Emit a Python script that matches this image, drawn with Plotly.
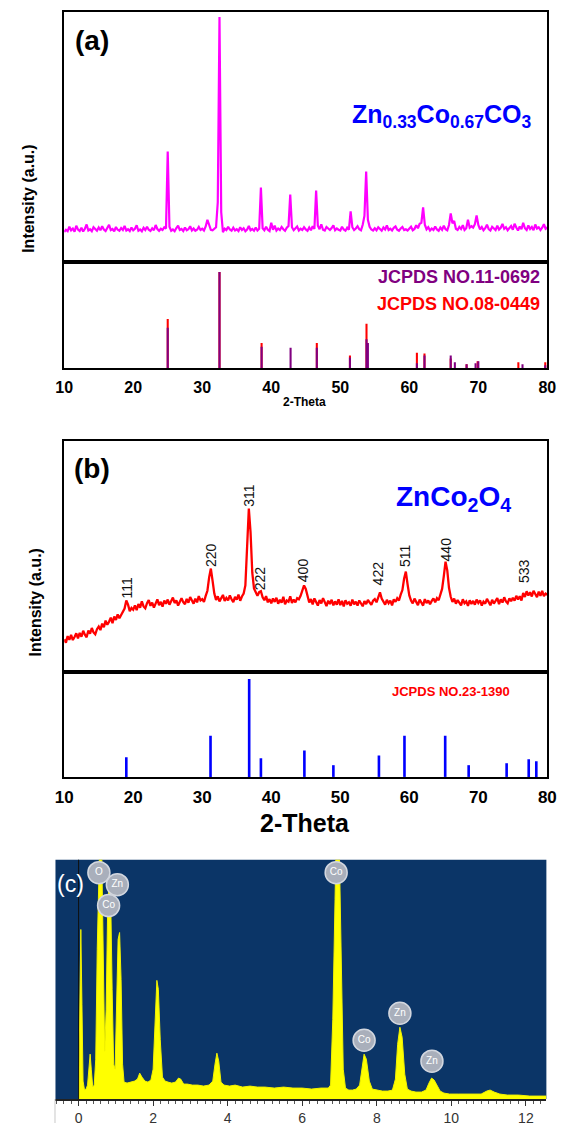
import numpy as np
import plotly.graph_objects as go

W, H = 567, 1126

# ---------------- (a) Zn0.33Co0.67CO3 : XRD scan, 10-80 deg at 0.25 deg step ----------------
scan_a_start, scan_a_step = 10.0, 0.25
scan_a_counts = [
    12.1, 13.0, 12.4, 14.2, 12.8, 13.5, 12.2, 14.6, 13.1, 12.5, 13.8, 12.3, 13.4, 15.1, 12.7, 13.2, 12.4, 14.0, 13.3, 12.6,
    13.9, 12.8, 14.4, 13.1, 12.5, 13.6, 15.0, 12.9, 13.3, 12.4, 14.1, 13.0, 12.6, 13.7, 12.9, 14.5, 12.7, 13.2, 12.5, 13.9,
    12.8, 13.4, 14.8, 12.6, 13.1, 12.4, 13.8, 12.9, 14.2, 13.0, 12.5, 13.6, 12.8, 14.9, 13.3, 12.6, 13.4, 12.9, 14.0, 13.5,
    44.2, 14.2, 12.6, 13.1, 12.4, 13.7, 14.6, 12.9, 13.3, 12.5, 13.9, 12.8, 13.2, 14.4, 12.7, 13.5, 12.6, 13.0, 14.1, 12.9,
    13.4, 12.7, 14.3, 17.0, 14.5, 13.0, 12.8, 13.5, 14.0, 24.0, 98.0, 20.0, 12.0, 13.4, 12.9, 14.2, 13.1, 12.6, 13.8, 12.7,
    13.2, 12.5, 14.0, 12.9, 13.6, 12.4, 13.1, 14.5, 12.8, 13.3, 12.6, 13.9, 12.7, 13.4, 29.9, 13.6, 12.8, 14.2, 13.0, 12.5,
    15.8, 13.0, 14.6, 12.7, 13.5, 12.9, 14.1, 13.2, 12.6, 13.8, 14.5, 27.1, 14.0, 12.8, 13.6, 14.3, 12.7, 13.4, 12.9, 14.0,
    13.1, 12.6, 13.9, 12.8, 14.4, 13.3, 28.7, 14.6, 13.2, 15.2, 13.0, 12.7, 14.1, 13.4, 12.9, 13.7, 14.8, 12.8, 13.5, 13.0,
    12.7, 14.2, 13.1, 12.6, 13.8, 13.0, 20.3, 14.0, 12.9, 13.5, 14.4, 13.2, 12.8, 15.0, 18.5, 36.3, 17.0, 14.2, 13.1, 12.7,
    13.6, 12.8, 14.0, 13.3, 12.6, 13.9, 13.1, 14.7, 12.9, 13.4, 12.7, 13.8, 14.3, 13.0, 12.6, 13.5, 14.1, 12.9, 13.2, 12.7,
    13.7, 14.2, 12.8, 13.3, 14.8, 13.6, 15.4, 15.8, 21.9, 15.0, 13.2, 14.0, 12.7, 13.5, 12.9, 14.3, 13.1, 12.6, 13.9, 13.0,
    14.6, 13.2, 12.8, 14.9, 19.5, 15.6, 16.5, 13.4, 12.9, 14.1, 13.3, 14.8, 12.9, 13.6, 17.0, 13.8, 14.4, 13.9, 15.2, 18.7,
    14.9, 13.2, 14.1, 12.8, 13.6, 15.0, 13.3, 12.7, 14.2, 13.5, 12.9, 14.6, 13.1, 13.8, 15.3, 13.4, 14.0, 12.8, 13.6, 14.5,
    13.0, 15.4, 13.9, 12.7, 14.3, 13.2, 15.8, 13.6, 12.9, 14.7, 13.3, 14.1, 12.8, 15.1, 13.5, 14.0, 12.9, 13.8, 15.2, 13.4,
    13.9,
]

# Standard stick patterns (relative intensity, %)
jcpds_11_0692_2theta = [25.0, 32.5, 38.6, 42.8, 46.6, 51.4, 53.8, 54.0, 61.1, 62.2, 66.0, 66.6, 68.3, 69.6, 70.0, 76.4, 79.7]
jcpds_11_0692_int = [42, 100, 22, 21, 21, 11, 30, 26, 5, 13, 13, 6, 4, 5, 7, 4, 3]
jcpds_08_0449_2theta = [25.0, 32.5, 38.6, 46.6, 51.4, 53.8, 61.1, 62.2, 66.0, 68.3, 69.9, 75.8, 79.7]
jcpds_08_0449_int = [51, 100, 26, 26, 13, 46, 16, 15, 10, 4, 7, 6, 6]

# ---------------- (b) ZnCo2O4 : XRD scan, 10-80 deg at 0.25 deg step ----------------
scan_b_start, scan_b_step = 10.0, 0.25
scan_b_counts = [
    14.2, 12.8, 15.6, 14.0, 16.1, 13.9, 15.2, 16.8, 14.6, 17.0, 15.3, 17.9, 16.2, 15.1, 18.0, 16.6, 19.1, 17.2, 16.4, 18.6,
    19.7, 18.2, 21.0, 19.4, 22.3, 20.5, 21.8, 23.6, 21.2, 24.1, 22.6, 25.0, 23.3, 24.8, 26.2, 27.5, 31.0, 29.2, 26.4, 27.8,
    27.0, 28.9, 26.8, 29.5, 27.9, 30.6, 28.4, 27.6, 29.8, 31.2, 28.7, 30.1, 27.9, 29.4, 31.5, 29.0, 30.4, 28.3, 31.0, 29.6,
    31.4, 29.2, 30.8, 32.3, 29.9, 31.1, 28.8, 30.5, 32.0, 30.3, 29.4, 31.7, 30.0, 32.5, 30.9, 29.6, 31.8, 30.2, 32.9, 31.0,
    31.6, 30.4, 33.0, 35.2, 41.0, 44.8, 39.5, 34.0, 31.2, 32.8, 30.6, 31.9, 33.4, 30.8, 32.1, 31.0, 33.2, 31.5, 30.3, 32.6,
    31.4, 33.5, 30.9, 32.7, 34.0, 37.5, 52.0, 70.7, 60.5, 43.0, 36.2, 34.8, 33.0, 34.6, 35.0, 32.4, 31.1, 32.9, 30.2, 31.6,
    29.8, 31.9, 30.4, 32.2, 29.6, 31.3, 30.0, 32.6, 29.4, 31.0, 30.5, 32.8, 29.9, 31.4, 30.2, 32.0, 31.5, 33.0, 35.0, 37.5,
    36.0, 32.8, 30.1, 31.6, 29.3, 31.9, 30.4, 28.8, 31.2, 29.7, 32.0, 30.0, 28.6, 30.9, 29.5, 31.3, 28.9, 30.6, 29.2, 31.5,
    29.0, 30.8, 28.4, 31.1, 29.6, 30.2, 28.7, 31.4, 29.3, 30.5, 28.8, 31.0, 29.9, 28.5, 30.7, 29.4, 31.2, 30.0, 29.1, 30.9,
    31.6, 30.2, 32.0, 34.5, 31.8, 30.5, 29.2, 31.3, 29.8, 30.9, 28.9, 31.5, 30.4, 32.0, 31.0, 33.5, 35.5, 40.5, 43.5, 38.0,
    33.2, 31.0, 29.7, 31.8, 30.3, 29.0, 31.4, 30.1, 28.8, 31.6, 29.9, 31.0, 29.4, 30.8, 31.9, 30.2, 32.0, 31.1, 33.4, 36.0,
    41.5, 47.8, 44.0, 36.5, 32.6, 30.4, 31.8, 29.6, 31.2, 30.0, 28.9, 31.5, 29.8, 30.6, 28.7, 31.1, 29.5, 30.8, 29.2, 31.4,
    29.9, 31.0, 28.8, 30.5, 29.6, 31.7, 30.2, 28.9, 31.3, 29.7, 30.8, 32.0, 29.4, 31.5, 30.1, 32.4, 30.6, 29.8, 31.9, 30.7,
    32.2, 30.9, 33.0, 31.4, 32.8, 31.0, 34.2, 32.5, 35.0, 33.1, 34.6, 32.7, 35.2, 33.6, 32.4, 34.8, 33.0, 35.1, 32.9, 34.0,
    33.5,
]
jcpds_23_1390_2theta = [19.0, 31.2, 36.8, 38.5, 44.8, 49.0, 55.6, 59.3, 65.2, 68.6, 74.1, 77.3, 78.4]
jcpds_23_1390_int = [20, 42, 100, 19, 27, 12, 22, 42, 42, 12, 14, 18, 16]

hkl_labels = ["111", "220", "311", "222", "400", "422", "511", "440", "533"]
hkl_2theta = [19.1, 31.2, 36.8, 38.5, 44.7, 55.6, 59.3, 65.3, 76.7]

# ---------------- (c) EDS spectrum ----------------
eds_kev = [0.00, 0.03, 0.06, 0.09, 0.12, 0.16, 0.20, 0.24, 0.28, 0.31, 0.34, 0.38, 0.42, 0.46, 0.50, 0.54,
           0.58, 0.62, 0.66, 0.70, 0.74, 0.78, 0.82, 0.86, 0.90, 0.94, 0.98, 1.02, 1.06, 1.10, 1.14, 1.18,
           1.22, 1.30, 1.40, 1.50, 1.58, 1.64, 1.70, 1.78, 1.86, 1.94, 2.00, 2.05, 2.10, 2.14, 2.19, 2.25,
           2.32, 2.40, 2.50, 2.60, 2.68, 2.74, 2.82, 2.92, 3.05, 3.20, 3.35, 3.50, 3.60, 3.66, 3.71, 3.76,
           3.82, 3.90, 4.05, 4.20, 4.40, 4.60, 4.80, 5.00, 5.25, 5.50, 5.75, 6.00, 6.25, 6.50, 6.70, 6.76,
           6.82, 6.88, 6.93, 6.98, 7.04, 7.10, 7.16, 7.25, 7.35, 7.45, 7.54, 7.60, 7.66, 7.72, 7.80, 7.88,
           8.00, 8.15, 8.30, 8.42, 8.50, 8.56, 8.62, 8.68, 8.75, 8.82, 8.92, 9.05, 9.20, 9.32, 9.40, 9.47,
           9.54, 9.62, 9.70, 9.80, 9.95, 10.2, 10.5, 10.8, 10.95, 11.04, 11.15, 11.3, 11.5, 11.8, 12.1, 12.4, 12.55]
eds_counts = [0, 90, 170, 95, 18, 9, 10, 14, 38, 45, 30, 12, 14, 40, 150, 260,
              280, 250, 120, 48, 90, 190, 217, 205, 110, 35, 30, 95, 160, 167, 120, 35,
              17, 16, 17, 18, 20, 26, 22, 18, 17, 19, 30, 80, 119, 110, 60, 22,
              18, 17, 16, 17, 21, 20, 15, 15, 14, 14, 13, 14, 18, 35, 46, 38,
              17, 14, 13, 14, 12, 13, 12, 12, 11, 12, 11, 11, 10, 11, 11, 14,
              80, 200, 300, 280, 150, 30, 11, 9, 9, 10, 14, 32, 45, 40, 18, 10,
              9, 8, 8, 9, 20, 55, 72, 62, 25, 10, 8, 7, 7, 9, 16, 21,
              19, 13, 8, 6, 5, 5, 5, 5, 8, 9, 7, 5, 4, 4, 3, 3, 3]

eds_peak_names = ["O", "Zn", "Co", "Co", "Co", "Zn", "Zn"]
eds_peak_kev = [0.545, 1.04, 0.805, 6.91, 7.66, 8.62, 9.48]
eds_badge_counts = [227, 215, 194, 227, 59, 86, 38]


# ---------------- helpers ----------------
def fx(px):
    return px / W


def fy(py):
    return 1 - py / H


FONT = "Arial, Liberation Sans, sans-serif"

scan_a_x = scan_a_start + scan_a_step * np.arange(len(scan_a_counts))
scan_b_x = scan_b_start + scan_b_step * np.arange(len(scan_b_counts))

fig = go.Figure()

# (a) measured pattern
fig.add_trace(go.Scatter(x=scan_a_x, y=scan_a_counts, mode="lines",
                         line=dict(color="#ff00ff", width=2.2), xaxis="x", yaxis="y",
                         showlegend=False, hoverinfo="skip"))
# (a) standard sticks: red behind, purple in front
fig.add_trace(go.Bar(x=jcpds_08_0449_2theta, y=jcpds_08_0449_int, width=0.3,
                     marker=dict(color="#ff0000", line=dict(width=0)), xaxis="x2", yaxis="y2",
                     showlegend=False))
fig.add_trace(go.Bar(x=jcpds_11_0692_2theta, y=jcpds_11_0692_int, width=0.3,
                     marker=dict(color="#800080", line=dict(width=0)), xaxis="x2", yaxis="y2",
                     showlegend=False))

# (b) measured pattern
fig.add_trace(go.Scatter(x=scan_b_x, y=scan_b_counts, mode="lines",
                         line=dict(color="#ff0000", width=2.3), xaxis="x3", yaxis="y3",
                         showlegend=False, hoverinfo="skip"))
fig.add_trace(go.Bar(x=jcpds_23_1390_2theta, y=jcpds_23_1390_int, width=0.38,
                     marker=dict(color="#0000ff", line=dict(width=0)), xaxis="x4", yaxis="y4",
                     showlegend=False))

# (c) EDS spectrum
fig.add_trace(go.Scatter(x=eds_kev, y=eds_counts, mode="lines", fill="tozeroy",
                         fillcolor="#ffff00", line=dict(color="#f2f200", width=1),
                         xaxis="x5", yaxis="y5", showlegend=False, hoverinfo="skip"))
fig.add_trace(go.Scatter(x=eds_peak_kev, y=eds_badge_counts, mode="markers+text",
                         text=eds_peak_names, textposition="middle center",
                         textfont=dict(family=FONT, size=10, color="white"),
                         marker=dict(symbol="circle", size=22, color="#a9afbb",
                                     line=dict(color="#d3d7df", width=1.5)),
                         xaxis="x5", yaxis="y5", showlegend=False, hoverinfo="skip",
                         cliponaxis=False))


def frame(domain, rng, **kw):
    d = dict(domain=domain, range=rng, showgrid=False, zeroline=False, showline=True,
             linecolor="black", linewidth=2, mirror=True, ticks="", showticklabels=False,
             fixedrange=True)
    d.update(kw)
    return d


xdom_ab = [fx(57), fx(556)]
tickfont_ab = dict(family=FONT, size=16, color="black", weight="bold")

layout = dict(
    width=W, height=H, margin=dict(l=0, r=0, t=0, b=0),
    paper_bgcolor="white", plot_bgcolor="rgba(0,0,0,0)",
    barmode="overlay", showlegend=False,
    xaxis=frame(xdom_ab, [10, 80], anchor="y"),
    yaxis=frame([fy(263), fy(12)], [0, 100], anchor="x"),
    xaxis2=frame(xdom_ab, [10, 80], anchor="y2", showticklabels=True,
                 tickvals=[10, 20, 30, 40, 50, 60, 70, 80], tickfont=tickfont_ab,
                 ticklabelstandoff=4),
    yaxis2=frame([fy(369), fy(263)], [0, 110], anchor="x2"),
    xaxis3=frame(xdom_ab, [10, 80], anchor="y3"),
    yaxis3=frame([fy(674), fy(442)], [0, 100], anchor="x3"),
    xaxis4=frame(xdom_ab, [10, 80], anchor="y4", showticklabels=True,
                 tickvals=[10, 20, 30, 40, 50, 60, 70, 80],
                 tickfont=dict(family=FONT, size=17, color="black", weight="bold"),
                 ticklabelstandoff=4),
    yaxis4=frame([fy(779), fy(674)], [0, 107], anchor="x4"),
    xaxis5=dict(domain=[fx(48), fx(555)], range=[-0.62, 12.55], anchor="y5",
                showgrid=False, zeroline=False, showline=True, linecolor="#222", linewidth=1.5,
                ticks="outside", ticklen=5, tickwidth=1, tickcolor="#333",
                tickvals=[0, 2, 4, 6, 8, 10, 12],
                minor=dict(ticks="outside", ticklen=3, dtick=0.2, tickcolor="#555", tickwidth=1),
                tickfont=dict(family=FONT, size=14, color="#333"), fixedrange=True),
    yaxis5=dict(domain=[fy(1102), fy(862)], range=[0, 240], anchor="x5",
                showgrid=False, zeroline=False, showline=False, showticklabels=False,
                ticks="", fixedrange=True),
)
fig.update_layout(**layout)

shapes = [
    # navy plot background of the EDS panel
    dict(type="rect", xref="x5 domain", yref="y5 domain", x0=0, x1=1, y0=0, y1=1,
         fillcolor="#0b3567", line=dict(width=0), layer="below"),
    # zero-energy marker
    dict(type="line", xref="x5", yref="y5 domain", x0=0, x1=0, y0=0, y1=1,
         line=dict(color="#101010", width=1), layer="above"),
    # thin grey edge under the EDS axis
    dict(type="line", xref="paper", yref="paper", x0=fx(47.5), x1=fx(47.5), y0=fy(1126), y1=fy(1102),
         line=dict(color="#c8c8c8", width=1)),
]
fig.update_layout(shapes=shapes)

ann = []


def text(x, y, s, size, color="black", bold=True, angle=0, xanchor="center", family=FONT, xref="paper"):
    ann.append(dict(x=x if xref != "paper" else fx(x), y=fy(y), xref=xref, yref="paper",
                    text=f"<b>{s}</b>" if bold else s, showarrow=False, textangle=angle,
                    xanchor=xanchor, yanchor="middle",
                    font=dict(family=family, size=size, color=color)))


# panel (a)
text(86, 41, "(a)", 28)
text(20, 199, "Intensity (a.u.)", 16, angle=-90)
text(447, 116, "Zn<sub>0.33</sub>Co<sub>0.67</sub>CO<sub>3</sub>", 25, color="#0000ff")
text(550, 278, "JCPDS NO.11-0692", 18, color="#800080", xanchor="right")
text(550, 305, "JCPDS NO.08-0449", 18, color="#ff0000", xanchor="right")
text(305, 403, "2-Theta", 12)

# panel (b)
text(86, 470, "(b)", 28)
text(27, 604, "Intensity (a.u.)", 16, angle=-90)
text(459, 500, "ZnCo<sub>2</sub>O<sub>4</sub>", 28, color="#0000ff")
text(456, 693, "JCPDS NO.23-1390", 13, color="#ff0000")
text(306, 825, "2-Theta", 25)
hkl_y_px = [590, 557, 497, 580, 572, 575, 557, 551, 573]
for lab, tt, yy in zip(hkl_labels, hkl_2theta, hkl_y_px):
    text(tt, yy, lab, 14, color="#111111", bold=False, angle=-90, xref="x3")

# panel (c)
text(64, 886, "(c)", 23, color="white", bold=False)

fig.update_layout(annotations=ann)
fig.write_html("out.html")
